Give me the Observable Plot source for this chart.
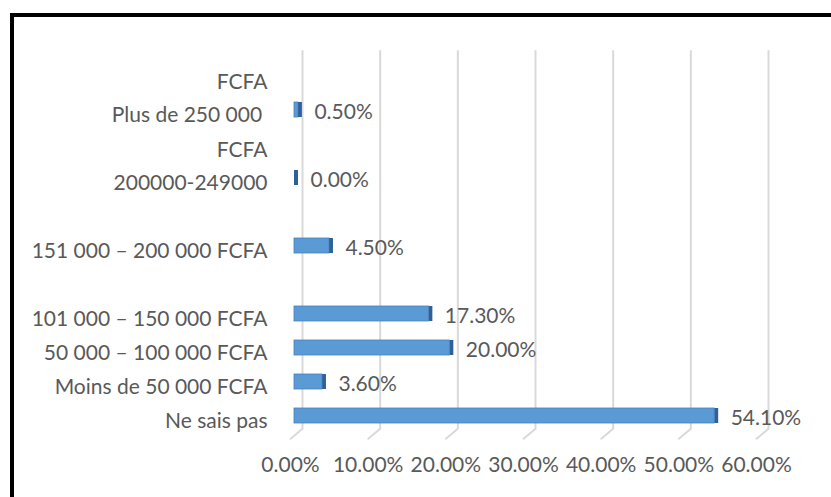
<!DOCTYPE html>
<html>
<head>
<meta charset="utf-8">
<script src="https://cdn.jsdelivr.net/npm/d3@7"></script>
<script src="https://cdn.jsdelivr.net/npm/@observablehq/plot@0.6"></script>
<style>
  html, body { margin: 0; padding: 0; background: #fff; overflow: hidden; }
  #wrap { position: relative; width: 831px; height: 497px; overflow: hidden; }
  #frame { position: absolute; left: 10px; top: 13px; width: 900px; height: 600px; border: 4px solid #000; box-sizing: border-box; }
  #chart { position: absolute; left: 0; top: 0; }
</style>
</head>
<body>
<div id="wrap"><div id="frame"></div><div id="chart"></div></div>
<script>
// Categories (bottom to top as in the chart)
const categories = [
  "Ne sais pas",
  "Moins de 50 000 FCFA",
  "50 000 – 100 000 FCFA",
  "101 000 – 150 000 FCFA",
  "151 000 – 200 000 FCFA",
  "200000-249000 FCFA",
  "Plus de 250 000 FCFA"
];
// Axis labels as they are displayed (wrapped)
const axisLabels = [
  "Ne sais pas",
  "Moins de 50 000 FCFA",
  "50 000 – 100 000 FCFA",
  "101 000 – 150 000 FCFA",
  "151 000 – 200 000 FCFA",
  "FCFA\n200000-249000",
  "FCFA\nPlus de 250 000 "
];
const values = [0.541, 0.036, 0.200, 0.173, 0.045, 0.000, 0.005];
const valueLabels = ["54.10%", "3.60%", "20.00%", "17.30%", "4.50%", "0.00%", "0.50%"];
// Category slots from top to bottom (empty slots are the gaps in the chart)
const ySlots = [
  "Plus de 250 000 FCFA", "gap3",
  "200000-249000 FCFA", "gap2",
  "151 000 – 200 000 FCFA", "gap1",
  "101 000 – 150 000 FCFA",
  "50 000 – 100 000 FCFA",
  "Moins de 50 000 FCFA",
  "Ne sais pas"
];
const xTicks = [0, 0.1, 0.2, 0.3, 0.4, 0.5, 0.6];
const xTickLabels = ["0.00%", "10.00%", "20.00%", "30.00%", "40.00%", "50.00%", "60.00%"];

const data = categories.map((c, i) => ({cat: c, label: axisLabels[i], value: values[i], vlabel: valueLabels[i]}));
const ticks = xTicks.map((t, i) => ({t, label: xTickLabels[i]}));

const font = "Lato, 'Open Sans', sans-serif";
const textColor = "#595959";

const floorTick = {
  draw(context, l) { context.moveTo(0, 0); context.lineTo(0, -l); }
};

const chart = Plot.plot({
  width: 831,
  height: 497,
  marginLeft: 302,
  marginRight: 63,
  marginTop: 90.2,
  marginBottom: 62.8,
  style: {fontFamily: font, fontSize: "21px", color: textColor, background: "transparent"},
  x: {domain: [0, 0.6], axis: null},
  y: {domain: ySlots, type: "band", paddingInner: 0.56, paddingOuter: 0.28, axis: null},
  marks: [
    Plot.ruleX(ticks, {x: "t", stroke: "#d9d9d9", strokeWidth: 2, insetTop: -40, insetBottom: 6}),
    Plot.vector(ticks, {x: "t", frameAnchor: "bottom", dy: -6, length: 15.6, rotate: 230, anchor: "start", shape: floorTick, stroke: "#d9d9d9", strokeWidth: 2}),
    Plot.text(ticks, {x: "t", text: "label", frameAnchor: "bottom", dy: 37, dx: -12, fill: textColor, fontSize: 21}),
    // side face of each 3D bar
    Plot.barX(data, {x1: "value", x2: "value", y: "cat", dx: -8, insetRight: -4, fill: "#2F6196"}),
    // front face
    Plot.barX(data, {x1: 0, x2: "value", y: "cat", dx: -8, fill: "#5B9BD5", stroke: "#4A7EBB", strokeWidth: 0.8}),
    Plot.text(data, {x: "value", y: "cat", text: "vlabel", dx: 8, dy: 2, textAnchor: "start", fill: textColor, fontSize: 21}),
    Plot.text(data, {x: 0, y: "cat", text: "label", dx: -35, dy: 12, textAnchor: "end", lineAnchor: "bottom", lineHeight: 1.58, fill: textColor, fontSize: 21})
  ]
});
document.getElementById("chart").appendChild(chart);
</script>
</body>
</html>
